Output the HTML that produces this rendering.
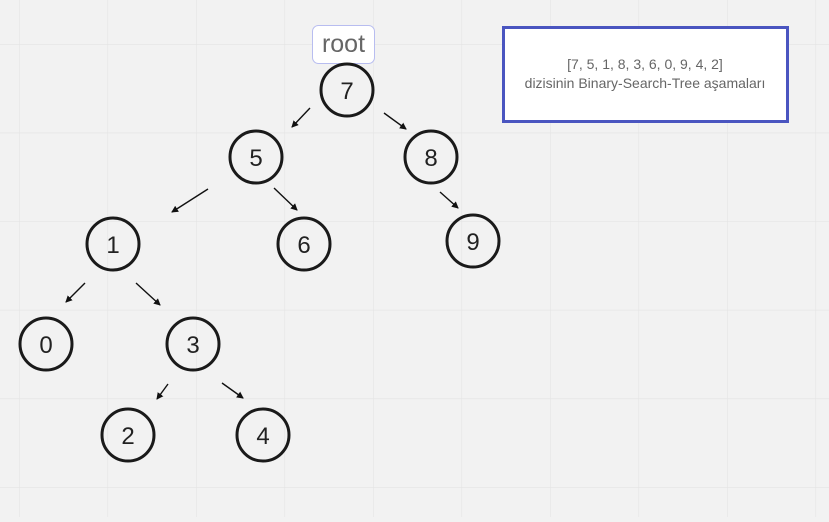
<!DOCTYPE html>
<html><head><style>
body{margin:0;width:829px;height:517px;overflow:hidden;background:#f2f2f2;font-family:"Liberation Sans",sans-serif}
</style></head><body>
<svg width="829" height="517" xmlns="http://www.w3.org/2000/svg">
<defs>
<pattern id="g" x="19" y="44" width="88.5" height="88.6" patternUnits="userSpaceOnUse">
<path d="M0 0V88.6M0 0H88.5" stroke="#e4e4e4" stroke-width="1.2" fill="none"/>
</pattern>
<marker id="a" markerWidth="7" markerHeight="7" refX="6" refY="3.5" orient="auto" markerUnits="userSpaceOnUse">
<path d="M0 0L7 3.5L0 7z" fill="#111"/>
</marker>
</defs>
<rect width="829" height="517" fill="url(#g)"/>
<rect x="503.5" y="27.5" width="284" height="94" fill="#fff" stroke="#4a55c0" stroke-width="3"/>
<text x="645" y="69" font-size="14" fill="#666" text-anchor="middle">[7, 5, 1, 8, 3, 6, 0, 9, 4, 2]</text>
<text x="645" y="88" font-size="14" fill="#666" text-anchor="middle">dizisinin Binary-Search-Tree aşamaları</text>
<rect x="312.5" y="25.5" width="62" height="38" rx="6" fill="#fff" stroke="#b8bdf0"/>
<text x="343.5" y="52" font-size="25" fill="#666" text-anchor="middle">root</text>
<g stroke="#111" stroke-width="1.4" marker-end="url(#a)">
<line x1="310" y1="108" x2="292" y2="127"/>
<line x1="384" y1="113" x2="406" y2="129"/>
<line x1="208" y1="189" x2="172" y2="212"/>
<line x1="274" y1="188" x2="297" y2="210"/>
<line x1="440" y1="192" x2="458" y2="208"/>
<line x1="85" y1="283" x2="66" y2="302"/>
<line x1="136" y1="283" x2="160" y2="305"/>
<line x1="168" y1="384" x2="157" y2="399"/>
<line x1="222" y1="383" x2="243" y2="398"/>
</g>
<g fill="none" stroke="#1a1a1a" stroke-width="3">
<circle cx="347" cy="90" r="26"/><circle cx="256" cy="157" r="26"/><circle cx="431" cy="157" r="26"/>
<circle cx="113" cy="244" r="26"/><circle cx="304" cy="244" r="26"/><circle cx="473" cy="241" r="26"/>
<circle cx="46" cy="344" r="26"/><circle cx="193" cy="344" r="26"/><circle cx="128" cy="435" r="26"/><circle cx="263" cy="435" r="26"/>
</g>
<g font-size="24" fill="#222" text-anchor="middle">
<text x="347" y="99">7</text><text x="256" y="166">5</text><text x="431" y="166">8</text>
<text x="113" y="253">1</text><text x="304" y="253">6</text><text x="473" y="250">9</text>
<text x="46" y="353">0</text><text x="193" y="353">3</text><text x="128" y="444">2</text><text x="263" y="444">4</text>
</g>
</svg>
</body></html>
